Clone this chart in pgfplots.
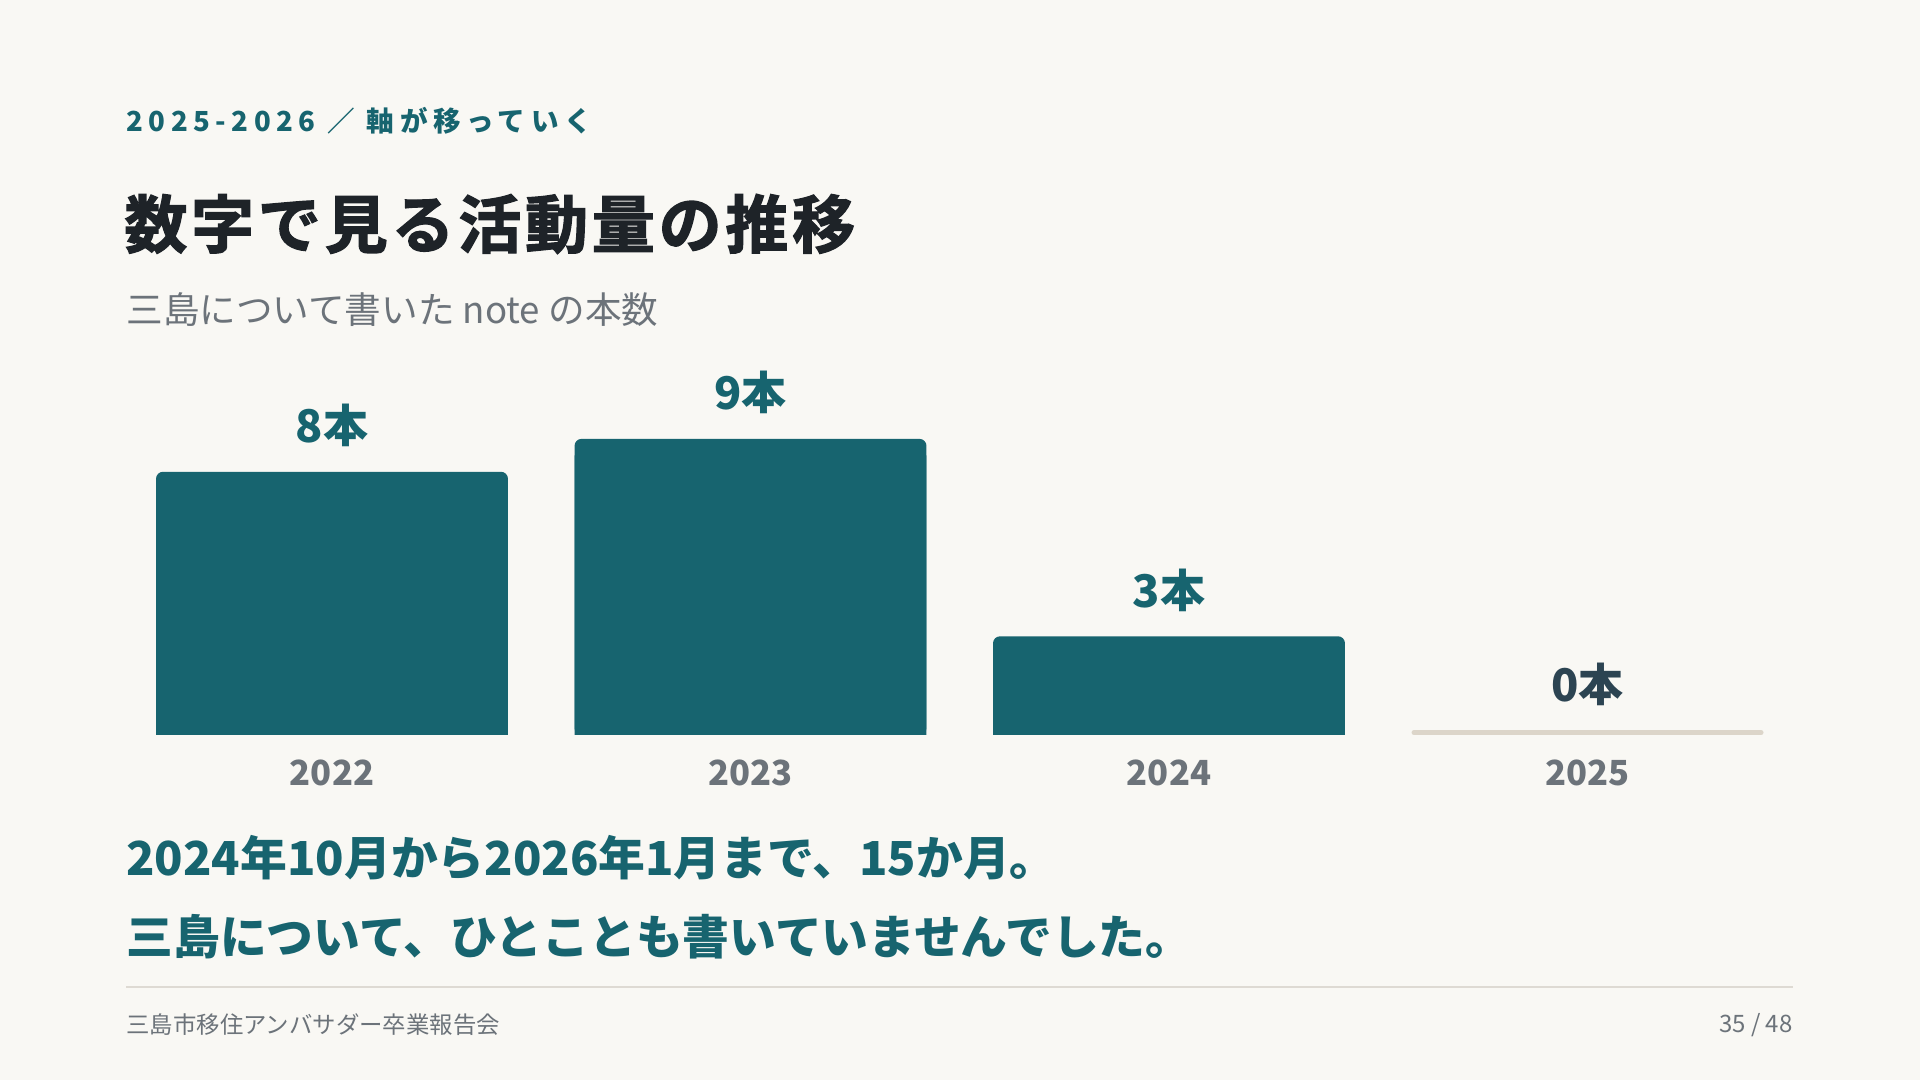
\documentclass[border=0pt]{standalone}
\usepackage{fontspec}
\usepackage{pgfplots}
\pgfplotsset{compat=1.18}
\setmainfont{Noto Sans CJK JP}
\newfontfamily\jp{Noto Sans CJK JP}
\newfontfamily\jpheavy[FakeBold=2]{Noto Sans CJK JP Bold}
\definecolor{bg}{HTML}{F9F8F4}
\definecolor{teal}{HTML}{17646F}
\definecolor{titlec}{HTML}{1E2328}
\definecolor{greyc}{HTML}{6C737A}
\definecolor{beige}{HTML}{DCD5C9}
\definecolor{zeroc}{HTML}{2C4452}
\definecolor{rulec}{HTML}{DEDAD3}
\pgfplotstableread{
x y
0 8
1 9
2 3
}\mainbars
\pgfplotstableread{
x y
0 7.5
1 8.5
2 2.5
}\basebars
\pgfplotstableread{
x y meta
3 0.15 0
}\zerobar
\begin{document}
\begin{tikzpicture}
\fill[bg] (0,0) rectangle (960pt,540pt);
% kicker
\node[anchor=west,inner sep=0pt,text=teal] at (63pt,479.5pt)
  {\fontsize{13.8pt}{16pt}\selectfont\bfseries\addfontfeature{LetterSpace=20}2025-2026 ／ 軸が移っていく};
% title
\node[anchor=west,inner sep=0pt,text=titlec] at (62pt,428pt)
  {\fontsize{31.5pt}{36pt}\selectfont\jpheavy\addfontfeature{LetterSpace=6}数字で見る活動量の推移};
% subtitle
\node[anchor=west,inner sep=0pt,text=greyc] at (63pt,385pt)
  {\fontsize{18.3pt}{22pt}\selectfont 三島について書いた note の本数};
\begin{axis}[
  at={(61.375pt,172.5pt)}, anchor=south west,
  scale only axis, width=837pt, height=164.5pt,
  xmin=-0.5, xmax=3.5, ymin=0, ymax=10,
  clip=false,
  axis line style={draw=none},
  major tick length=0pt,
  ytick=\empty,
  xtick={0,1,2,3},
  xticklabels={2022,2023,2024,2025},
  xticklabel style={font=\fontsize{17.3pt}{20pt}\selectfont\bfseries, text=greyc, anchor=center, yshift=-19pt},
  /pgf/number format/assume math mode=true,
  ybar,
  bar width=0.841,
  nodes near coords style={font=\fontsize{22.5pt}{26pt}\selectfont\bfseries, anchor=center, yshift=23pt},
]
\addplot[bar shift=0pt, fill=teal, draw=none] table[x=x,y=y] {\basebars};
\addplot[bar shift=0pt, fill=teal, draw=none, rounded corners=3.5pt,
  nodes near coords={\pgfmathprintnumber{\pgfplotspointmeta}本},
  every node near coord/.append style={text=teal}] table[x=x,y=y] {\mainbars};
\addplot[bar shift=0pt, fill=beige, draw=none, rounded corners=1.2pt,
  point meta=explicit,
  nodes near coords={\pgfmathprintnumber{\pgfplotspointmeta}本},
  every node near coord/.append style={text=zeroc}] table[x=x,y=y,meta=meta] {\zerobar};
\end{axis}
% bottom message
\node[anchor=west,inner sep=0pt,text=teal] at (63pt,111pt)
  {\fontsize{23.4pt}{27pt}\selectfont\bfseries 2024年10月から2026年1月まで、15か月。};
\node[anchor=west,inner sep=0pt,text=teal] at (63pt,71.5pt)
  {\fontsize{23.4pt}{27pt}\selectfont\bfseries 三島について、ひとことも書いていませんでした。};
\draw[rulec, line width=1pt] (63pt,46.5pt) -- (896.5pt,46.5pt);
\node[anchor=west,inner sep=0pt,text=greyc] at (63pt,27.5pt)
  {\fontsize{11.7pt}{14pt}\selectfont 三島市移住アンバサダー卒業報告会};
\node[anchor=east,inner sep=0pt,text=greyc] at (896.5pt,27.5pt)
  {\fontsize{12pt}{14pt}\selectfont 35 / 48};
\end{tikzpicture}
\end{document}
